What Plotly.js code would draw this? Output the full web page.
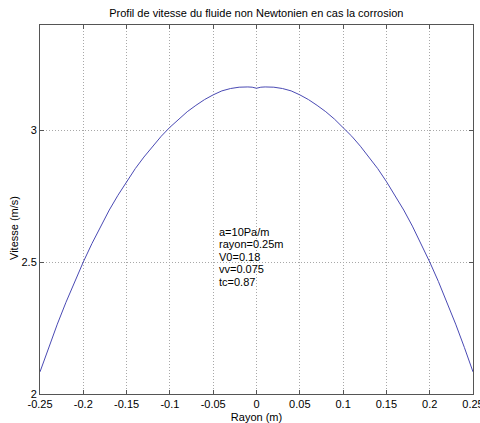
<!DOCTYPE html>
<html>
<head>
<meta charset="utf-8">
<script src="https://cdn.plot.ly/plotly-3.0.1.min.js"></script>
<style>
  html, body { margin: 0; padding: 0; background: #fff; }
  #chart { width: 480px; height: 423px; }
</style>
</head>
<body>
<div id="chart"></div>
<script>
// Radial positions (m) and velocity profile (m/s)
const rayon = [
  -0.25, -0.24, -0.23, -0.22, -0.21, -0.20, -0.19, -0.18, -0.17, -0.16,
  -0.15, -0.14, -0.13, -0.12, -0.11, -0.10, -0.09, -0.08, -0.07, -0.06,
  -0.05, -0.04, -0.03, -0.02, -0.01, -0.005, 0.00, 0.005, 0.01, 0.02, 0.03, 0.04,
  0.05, 0.06, 0.07, 0.08, 0.09, 0.10, 0.11, 0.12, 0.13, 0.14,
  0.15, 0.16, 0.17, 0.18, 0.19, 0.20, 0.21, 0.22, 0.23, 0.24, 0.25
];
const vitesse = [
  2.084, 2.177, 2.265, 2.348, 2.427, 2.501, 2.571, 2.637, 2.698, 2.754,
  2.806, 2.855, 2.899, 2.940, 2.978, 3.012, 3.043, 3.071, 3.095, 3.117,
  3.135, 3.150, 3.159, 3.164, 3.165, 3.164, 3.160, 3.164, 3.165, 3.164, 3.159, 3.150,
  3.135, 3.117, 3.095, 3.071, 3.043, 3.012, 2.978, 2.940, 2.899, 2.855,
  2.806, 2.754, 2.698, 2.637, 2.571, 2.501, 2.427, 2.348, 2.265, 2.177, 2.084
];

const xTickVals = [-0.25, -0.2, -0.15, -0.1, -0.05, 0, 0.05, 0.1, 0.15, 0.2, 0.25];
const xTickText = ['-0.25', '-0.2', '-0.15', '-0.1', '-0.05', '0', '0.05', '0.1', '0.15', '0.2', '0.25'];
const yTickVals = [2, 2.5, 3];
const yTickText = ['2', '2.5', '3'];

// Simulation parameters shown inside the axes
const params = ['a=10Pa/m', 'rayon=0.25m', 'V0=0.18', 'vv=0.075', 'tc=0.87'];

const font = { family: 'Liberation Sans, Arial, sans-serif', size: 11, color: '#000' };

const trace = {
  x: rayon,
  y: vitesse,
  type: 'scatter',
  mode: 'lines',
  line: { color: '#4a4ab4', width: 1 },
  hoverinfo: 'x+y'
};

const axisCommon = {
  showline: true,
  linecolor: '#555',
  linewidth: 1,
  mirror: 'ticks',
  ticks: 'inside',
  ticklen: 4,
  tickcolor: '#555',
  showgrid: true,
  gridcolor: '#a8a8a8',
  griddash: '1px,2px',
  gridwidth: 1,
  zeroline: false,
  tickfont: font,
  ticklabeloverflow: 'allow'
};

// Plot area geometry in pixels, used to place the free text
const plotTop = 25, plotBottom = 394, yMin = 2, yMax = 3.4;
const pxToY = px => yMin + (plotBottom - px) / (plotBottom - plotTop) * (yMax - yMin);

const paramAnnotations = params.map((t, i) => ({
  x: -0.046,
  y: pxToY(231.7 + i * 12.5),
  xref: 'x',
  yref: 'y',
  xanchor: 'left',
  yanchor: 'middle',
  align: 'left',
  showarrow: false,
  text: t,
  font: font
}));

const layout = {
  width: 480,
  height: 423,
  margin: { l: 40, r: 7, t: 25, b: 29 },
  paper_bgcolor: '#fff',
  plot_bgcolor: '#fff',
  showlegend: false,
  font: font,
  title: {
    text: 'Profil de vitesse du fluide non Newtonien en cas la corrosion',
    font: font,
    x: 0.534,
    xanchor: 'center',
    y: 0.97,
    yanchor: 'middle'
  },
  xaxis: Object.assign({}, axisCommon, {
    range: [-0.25, 0.25],
    tickvals: xTickVals,
    ticktext: xTickText,
    title: { text: 'Rayon (m)', font: font, standoff: 5 }
  }),
  yaxis: Object.assign({}, axisCommon, {
    range: [yMin, yMax],
    tickvals: yTickVals,
    ticktext: yTickText
  }),
  annotations: paramAnnotations.concat([{
    x: -0.060,
    y: 0.45,
    xref: 'paper',
    yref: 'paper',
    xanchor: 'center',
    yanchor: 'middle',
    textangle: -90,
    showarrow: false,
    text: 'Vitesse (m/s)',
    font: font
  }])
};

Plotly.newPlot('chart', [trace], layout, { displayModeBar: false, staticPlot: true });
</script>
</body>
</html>
